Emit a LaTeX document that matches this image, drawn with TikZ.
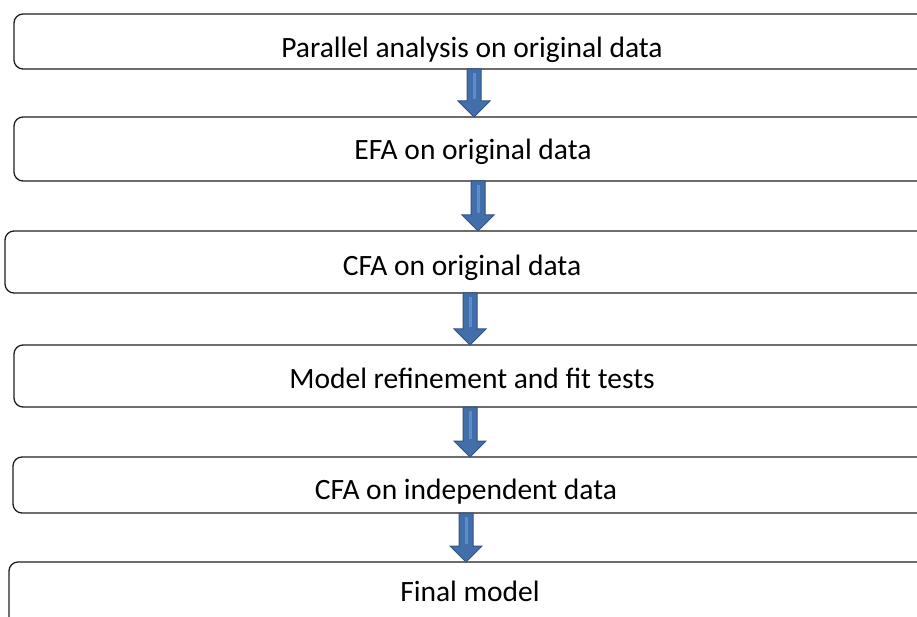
\documentclass[tikz,border=0pt]{standalone}
\usepackage{fontspec}
\setmainfont{Carlito}
\usetikzlibrary{calc}
\definecolor{arrowfill}{RGB}{66,111,170}
\definecolor{arrowline}{RGB}{50,84,128}
\definecolor{arrowlight}{RGB}{88,142,206}
\definecolor{boxline}{RGB}{30,30,30}
\tikzset{
  stepbox/.style={draw=boxline, line width=1.3pt, rounded corners=9pt, rectangle, inner sep=0pt, outer sep=0pt},
  steptext/.style={anchor=base, inner sep=0pt, font=\fontsize{29.5}{33}\selectfont},
}
\newcommand\blockarrow[2]{%
  \fill[arrowfill, draw=arrowline, line width=1pt]
    let \p1=(#1), \p2=(#2) in
    (\x1-7pt,\y1) -- (\x1-7pt,\y2+16pt) -- (\x1-16pt,\y2+16pt) -- (\x2,\y2)
    -- (\x1+16pt,\y2+16pt) -- (\x1+7pt,\y2+16pt) -- (\x1+7pt,\y1) -- cycle;
  \draw[arrowlight, line width=3pt]
    let \p1=(#1), \p2=(#2) in (\x1,\y1-4pt) -- (\x1,\y2+18pt);
}
\begin{document}
\begin{tikzpicture}[x=1pt,y=1pt]
\useasboundingbox (0,0) rectangle (917,616);
\clip (0,0) rectangle (917,616);
% boxes
\node[stepbox, minimum width=926pt, minimum height=55pt] (b1) at (477,574.5) {};
\node[stepbox, minimum width=926pt, minimum height=64pt] (b2) at (477,467) {};
\node[stepbox, minimum width=935pt, minimum height=62pt] (b3) at (472.5,354) {};
\node[stepbox, minimum width=926pt, minimum height=62pt] (b4) at (477,240) {};
\node[stepbox, minimum width=927pt, minimum height=56pt] (b5) at (476.5,131) {};
\node[stepbox, minimum width=931pt, minimum height=84pt] (b6) at (474.5,12) {};
% texts
\node[steptext] (t1) at (472,558) {Parallel analysis on original data};
\node[steptext] (t2) at (473,456) {EFA on original data};
\node[steptext] (t3) at (462,340) {CFA on original data};
\node[steptext] (t4) at (472,228) {Model refinement and fit tests};
\node[steptext] (t5) at (466,117) {CFA on independent data};
\node[steptext] (t6) at (470,15) {Final model};
% arrow endpoints
\coordinate (s1) at (b1.south -| 474,0); \coordinate (e1) at (b2.north -| 474,0);
\coordinate (s2) at (b2.south -| 478,0); \coordinate (e2) at (b3.north -| 478,0);
\coordinate (s3) at (b3.south -| 470,0); \coordinate (e3) at (b4.north -| 470,0);
\coordinate (s4) at (b4.south -| 470,0); \coordinate (e4) at (b5.north -| 470,0);
\coordinate (s5) at (b5.south -| 466,0); \coordinate (e5) at (b6.north -| 466,0);
\blockarrow{s1}{e1}
\blockarrow{s2}{e2}
\blockarrow{s3}{e3}
\blockarrow{s4}{e4}
\blockarrow{s5}{e5}
\end{tikzpicture}
\end{document}
